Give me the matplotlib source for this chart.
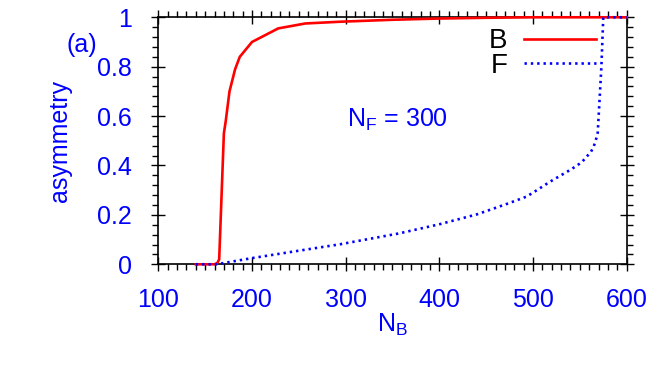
import matplotlib

matplotlib.use("Agg")
import matplotlib.pyplot as plt
from matplotlib.ticker import MultipleLocator

plt.rcParams["font.family"] = ["Liberation Sans", "DejaVu Sans"]
plt.rcParams["mathtext.fontset"] = "custom"
plt.rcParams["mathtext.rm"] = "Liberation Sans"

nb_b = [140, 150, 160, 163, 165, 170, 172, 176, 182, 187, 200, 228, 257, 294, 350, 400, 450, 500, 600]
asym_b = [0.0, 0.0, 0.0, 0.005, 0.02, 0.53, 0.58, 0.70, 0.79, 0.84, 0.90, 0.955, 0.975, 0.982, 0.99, 0.995, 0.998, 1.0, 1.0]

nb_f = [140, 162, 200, 250, 294, 357, 400, 440, 474, 493, 500, 518, 541, 552, 562, 565, 569, 573, 575, 600]
asym_f = [0.0, 0.0, 0.025, 0.055, 0.081, 0.125, 0.162, 0.202, 0.247, 0.274, 0.29, 0.334, 0.385, 0.413, 0.456, 0.479, 0.527, 0.80, 1.0, 1.0]

BLUE = "#0000ff"
RED = "#ff0000"
FS = 18

fig = plt.figure(figsize=(6.64, 3.8), dpi=100)
ax = fig.add_axes([0.2384, 0.3045, 0.7054, 0.65])

ax.plot(nb_b, asym_b, color=RED, linewidth=1.9, label="B", clip_on=False, zorder=3)
ax.plot(nb_f, asym_f, color=BLUE, linewidth=1.9, linestyle=(0, (0.9, 1.5)), label="F", clip_on=False, zorder=3)

ax.set_xlim(100, 600)
ax.set_ylim(0, 1)
ax.xaxis.set_major_locator(MultipleLocator(100))
ax.xaxis.set_minor_locator(MultipleLocator(10))
ax.yaxis.set_major_locator(MultipleLocator(0.2))
ax.yaxis.set_minor_locator(MultipleLocator(0.04))
ax.yaxis.set_major_formatter(plt.FuncFormatter(lambda v, p: f"{v:g}"))

ax.tick_params(which="both", top=True, right=True, direction="out", width=1, colors="black",
               labelcolor=BLUE, labelsize=FS)
ax.tick_params(which="major", length=7)
ax.tick_params(which="minor", length=4)
ax.tick_params(axis="x", which="major", direction="inout", length=10, pad=12)
ax.tick_params(axis="y", which="major", direction="inout", length=10, pad=14)
for s in ax.spines.values():
    s.set_linewidth(1.2)

ax.set_xlabel(r"$\mathrm{N_B}$", color=BLUE, fontsize=FS, labelpad=0)
ax.set_ylabel("asymmetry", color=BLUE, fontsize=FS, labelpad=18)

ax.text(0.402, 0.556, r"$\mathrm{N_F}$ = 300", color=BLUE, fontsize=FS, va="baseline",
        transform=ax.transAxes)
fig.text(66 / 664, 1 - 45 / 380, "(a)", color=BLUE, fontsize=FS, va="center")

ax.legend(loc="upper right", bbox_to_anchor=(0.935, 0.955), frameon=False, markerfirst=False,
          fontsize=20, handlelength=2.6, handletextpad=0.6, labelspacing=-0.05, borderpad=0,
          borderaxespad=0)

fig.savefig("out.png", dpi=100)
